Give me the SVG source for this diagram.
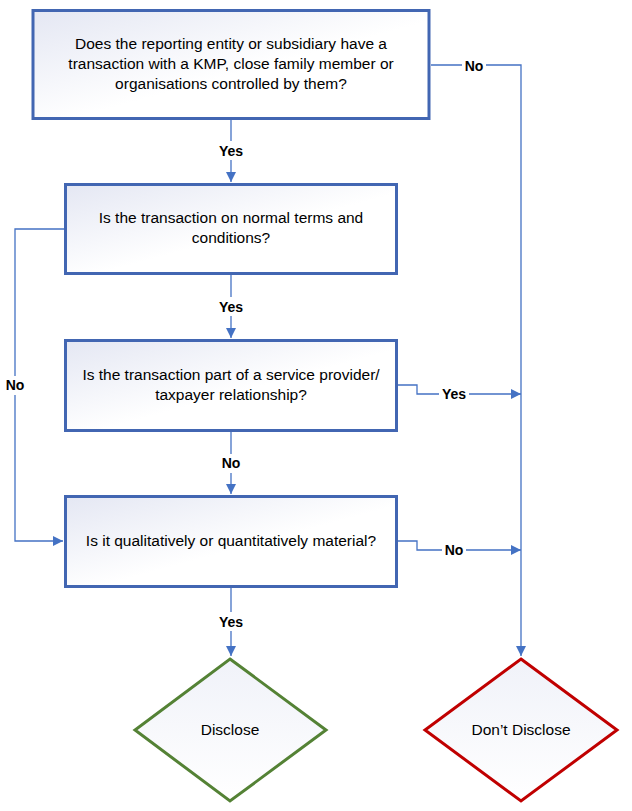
<svg xmlns="http://www.w3.org/2000/svg" width="632" height="811" viewBox="0 0 632 811">
<defs>
<linearGradient id="g" x1="0" y1="0" x2="1" y2="1">
<stop offset="0" stop-color="#E4E7F3"/>
<stop offset="0.55" stop-color="#FFFFFF"/>
<stop offset="1" stop-color="#FFFFFF"/>
</linearGradient>
<linearGradient id="gd" x1="0" y1="0" x2="0" y2="1">
<stop offset="0" stop-color="#F0F2F9"/>
<stop offset="1" stop-color="#FFFFFF"/>
</linearGradient>
<marker id="ah" viewBox="0 0 10 10" refX="10" refY="5" markerWidth="10" markerHeight="10" markerUnits="userSpaceOnUse" orient="auto">
<path d="M0,0 L10,5 L0,10 z" fill="#4472C4"/>
</marker>
<style>
.box{fill:url(#g);stroke:#4266B2;stroke-width:3}
.dg{fill:url(#gd);stroke:#548235;stroke-width:3}
.dr{fill:url(#gd);stroke:#C00000;stroke-width:3}
.t{font-family:"Liberation Sans",Arial,sans-serif;font-size:15.5px;fill:#000;text-anchor:middle}
.c{fill:none;stroke:#4472C4;stroke-width:1.3}
.l{font-family:"Liberation Sans",Arial,sans-serif;font-size:14px;font-weight:bold;fill:#000;text-anchor:middle}
.bg{fill:#fff}
</style>
</defs>
<g id="connectors">
<path class="c" d="M231,120 V182" marker-end="url(#ah)"/>
<path class="c" d="M431,65 H521 V656" marker-end="url(#ah)"/>
<path class="c" d="M231,275 V338" marker-end="url(#ah)"/>
<path class="c" d="M64,229 H15 V541 H63" marker-end="url(#ah)"/>
<path class="c" d="M398,385 H417 V394 H521" marker-end="url(#ah)"/>
<path class="c" d="M231,432 V494" marker-end="url(#ah)"/>
<path class="c" d="M398,541 H417 V550 H521" marker-end="url(#ah)"/>
<path class="c" d="M231,588 V656" marker-end="url(#ah)"/>
<rect class="bg" x="216" y="141" width="30" height="19"/>
<text class="l" x="231" y="156">Yes</text>
<rect class="bg" x="462" y="56" width="24" height="19"/>
<text class="l" x="474" y="71">No</text>
<rect class="bg" x="216" y="297" width="30" height="19"/>
<text class="l" x="231" y="312">Yes</text>
<rect class="bg" x="3" y="376" width="24" height="19"/>
<text class="l" x="15" y="390">No</text>
<rect class="bg" x="439" y="385" width="30" height="19"/>
<text class="l" x="454" y="399">Yes</text>
<rect class="bg" x="219" y="454" width="24" height="19"/>
<text class="l" x="231" y="468">No</text>
<rect class="bg" x="442" y="541" width="24" height="19"/>
<text class="l" x="454" y="555">No</text>
<rect class="bg" x="216" y="612" width="30" height="19"/>
<text class="l" x="231" y="627">Yes</text>
</g>
<g id="n1">
<rect class="box" x="33" y="10.5" width="396" height="108"/>
<text class="t" x="231" y="49">Does the reporting entity or subsidiary have a</text>
<text class="t" x="231" y="69">transaction with a KMP, close family member or</text>
<text class="t" x="231" y="89">organisations controlled by them?</text>
</g>
<g id="n2">
<rect class="box" x="65.5" y="184.5" width="331" height="89"/>
<text class="t" x="231" y="223">Is the transaction on normal terms and</text>
<text class="t" x="231" y="243">conditions?</text>
</g>
<g id="n3">
<rect class="box" x="65.5" y="340.5" width="331" height="90"/>
<text class="t" x="231" y="380">Is the transaction part of a service provider/</text>
<text class="t" x="231" y="400">taxpayer relationship?</text>
</g>
<g id="n4">
<rect class="box" x="65.5" y="496.5" width="331" height="90"/>
<text class="t" x="231" y="546">Is it qualitatively or quantitatively material?</text>
</g>
<g id="d1">
<polygon class="dg" points="230,659 326,730 230,801 135,730"/>
<text class="t" x="230" y="735">Disclose</text>
</g>
<g id="d2">
<polygon class="dr" points="521,659 617,730 521,801 425,730"/>
<text class="t" x="521" y="735">Don’t Disclose</text>
</g>
</svg>
